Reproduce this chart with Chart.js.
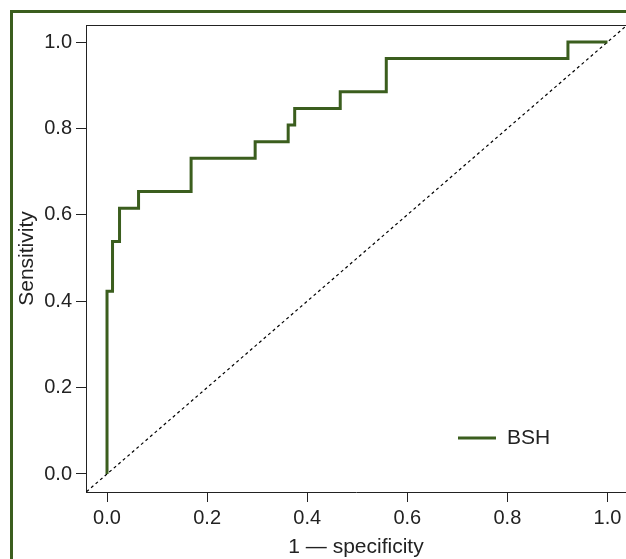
<!DOCTYPE html>
<html>
<head>
<meta charset="utf-8">
<script src="https://cdn.jsdelivr.net/npm/chart.js@4.4.0/dist/chart.umd.min.js"></script>
<style>
  html, body { margin: 0; padding: 0; background: #fff; overflow: hidden; }
  #frame { position: absolute; left: 10px; top: 10px; width: 700px; height: 700px;
           border-top: 3px solid #3b5e1e; border-left: 3px solid #3b5e1e; }
  #wrap { position: absolute; left: 0; top: 0; width: 626px; height: 559px; }
</style>
</head>
<body>
<div id="frame"></div>
<div id="wrap"><canvas id="roc" width="626" height="559"></canvas></div>
<script>
// ROC corner points (1 - specificity, sensitivity)
const fpr = [0, 0, 0.011, 0.025, 0.063, 0.168, 0.296, 0.362, 0.375, 0.466, 0.558, 0.921, 1.0]
const tpr = [0, 0.423, 0.538, 0.615, 0.654, 0.731, 0.769, 0.808, 0.846, 0.885, 0.962, 1.0, 1.0]
const seriesName = 'BSH'
const tickValues = [0, 0.2, 0.4, 0.6, 0.8, 1.0]
const tickLabels = ['0.0', '0.2', '0.4', '0.6', '0.8', '1.0']
const chanceLine = [-0.05, 1.05]

const green = '#3b5e1e'
const ink = '#222'
const font = "'Liberation Sans', Arial, Helvetica, sans-serif"

// top edge of the box + legend drawn inside the plot
const boxAndLegend = {
  id: 'boxAndLegend',
  afterDraw(chart) {
    const { ctx, chartArea: a } = chart
    ctx.save()
    ctx.strokeStyle = ink
    ctx.lineWidth = 1
    ctx.beginPath()
    ctx.moveTo(a.left, a.top + 0.5)
    ctx.lineTo(a.right, a.top + 0.5)
    ctx.stroke()

    const ds = chart.data.datasets[0]
    const lx = a.left + 372, ly = 438
    ctx.strokeStyle = ds.borderColor
    ctx.lineWidth = 3
    ctx.beginPath()
    ctx.moveTo(lx, ly)
    ctx.lineTo(lx + 38, ly)
    ctx.stroke()
    ctx.fillStyle = ink
    ctx.font = '21px ' + font
    ctx.textBaseline = 'middle'
    ctx.fillText(ds.label, lx + 49, ly)
    ctx.restore()
  }
}

const axisCommon = {
  type: 'linear',
  afterBuildTicks: scale => { scale.ticks = tickValues.map(v => ({ value: v })) },
  ticks: {
    callback: (v, i) => tickLabels[i],
    color: ink,
    font: { family: font, size: 20 }
  },
  grid: { drawOnChartArea: false, drawTicks: true, tickLength: 10, color: ink, lineWidth: 1 },
  border: { display: true, color: ink, width: 1 }
}

new Chart(document.getElementById('roc'), {
  type: 'scatter',
  data: {
    datasets: [{
      label: seriesName,
      data: fpr.map((x, i) => ({ x, y: tpr[i] })),
      showLine: true,
      stepped: 'before',
      borderColor: green,
      borderWidth: 3,
      pointRadius: 0
    }, {
      label: 'chance',
      data: chanceLine.map(v => ({ x: v, y: v })),
      showLine: true,
      borderColor: '#000',
      borderWidth: 1.2,
      borderDash: [3, 3],
      pointRadius: 0
    }]
  },
  options: {
    responsive: false,
    animation: false,
    layout: { padding: { top: 25, right: 0, left: 0, bottom: 0 } },
    plugins: { legend: { display: false }, tooltip: { enabled: false } },
    scales: {
      x: {
        ...axisCommon,
        position: 'bottom',
        min: -0.042,
        max: 1.037,
        afterFit: scale => { scale.height = 67; scale.paddingLeft = 0; scale.paddingRight = 0 },
        ticks: { ...axisCommon.ticks, padding: 4, maxRotation: 0 },
        title: { display: true, text: '1 \u2014 specificity', color: ink,
                 font: { family: font, size: 21, lineHeight: 1.1 }, padding: { top: 0, bottom: 0 } }
      },
      y: {
        ...axisCommon,
        position: 'left',
        min: -0.0417,
        max: 1.0394,
        afterFit: scale => { scale.width = 86; scale.paddingTop = 0; scale.paddingBottom = 0 },
        ticks: { ...axisCommon.ticks, padding: 4 },
        title: { display: true, text: 'Sensitivity', color: ink,
                 font: { family: font, size: 21, lineHeight: 1.1 }, padding: { top: 16, bottom: 0 } }
      }
    }
  },
  plugins: [boxAndLegend]
})
</script>
</body>
</html>
